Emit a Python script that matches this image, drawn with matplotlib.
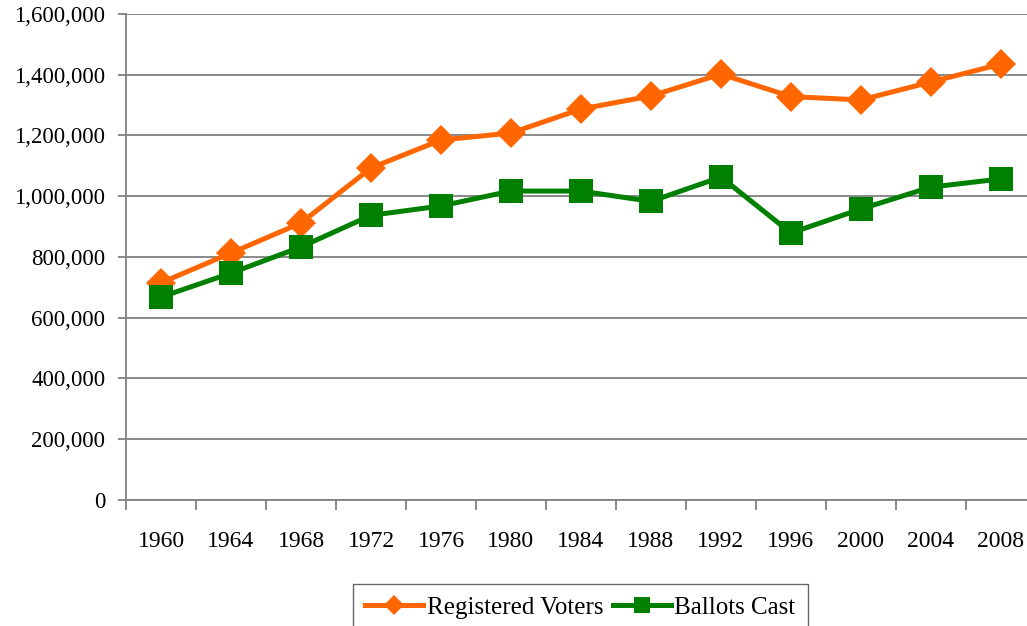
import matplotlib.pyplot as plt
from matplotlib.ticker import FuncFormatter, FixedLocator

# Election years and totals
years = ["1960", "1964", "1968", "1972", "1976", "1980", "1984",
         "1988", "1992", "1996", "2000", "2004", "2008"]
registered_voters = [715000, 813000, 912000, 1093000, 1185000, 1208000, 1287000,
                     1330000, 1402000, 1328000, 1317000, 1376000, 1435000]
ballots_cast = [668000, 747000, 833000, 937000, 968000, 1017000, 1017000,
                983000, 1063000, 879000, 958000, 1030000, 1057000]

plt.rcParams["font.family"] = ["Liberation Serif", "DejaVu Serif"]

fig = plt.figure(figsize=(10.27, 6.26), dpi=100)
# axes run past the right edge, as in the original
axes = fig.add_axes([0.1227, 0.2013, 0.886, 0.7764])

x = list(range(len(years)))
grid_color = "#808080"

axes.plot(x, registered_voters, color="#FF6600", linewidth=3.6, marker="D",
          markersize=15.5, markeredgewidth=0, label="Registered Voters", zorder=3)
axes.plot(x, ballots_cast, color="#008000", linewidth=3.6, marker="s",
          markersize=17.5, markeredgewidth=0, label="Ballots Cast", zorder=3)

# Axis limits, grid and ticks
axes.set_xlim(-0.5, len(years) - 0.5)
axes.set_ylim(0, 1600000)
axes.set_yticks(range(0, 1600001, 200000))
axes.yaxis.set_major_formatter(FuncFormatter(lambda v, p: f"{int(v):,}"))
axes.grid(visible=True, which="major", axis="y", color=grid_color, linewidth=1.3)
axes.set_axisbelow(True)

axes.set_xticks(x)
axes.set_xticklabels(years)
axes.xaxis.set_minor_locator(FixedLocator([i - 0.5 for i in range(len(years) + 1)]))
axes.tick_params(axis="x", which="major", length=0, pad=22, labelsize=17)
axes.tick_params(axis="x", which="minor", length=7, width=1.3, color=grid_color)
axes.tick_params(axis="y", which="major", length=6, width=1.3, color=grid_color,
                 pad=9, labelsize=16.5)

for side in ["top", "right"]:
    axes.spines[side].set_visible(False)
for side in ["left", "bottom"]:
    axes.spines[side].set_color(grid_color)
    axes.spines[side].set_linewidth(1.3)

# Legend box at the bottom, partly cut off by the figure edge
legend = fig.legend(loc="upper left", bbox_to_anchor=(0.3437, 0.067), ncol=2,
                    fontsize=18, frameon=True, fancybox=False, handlelength=2.3,
                    handletextpad=0.15, columnspacing=0.4, markerscale=0.65,
                    borderpad=0.5, borderaxespad=0)
legend.get_frame().set_edgecolor("#404040")
legend.get_frame().set_linewidth(1.0)

plt.savefig("out.png", dpi=100)
plt.close()
